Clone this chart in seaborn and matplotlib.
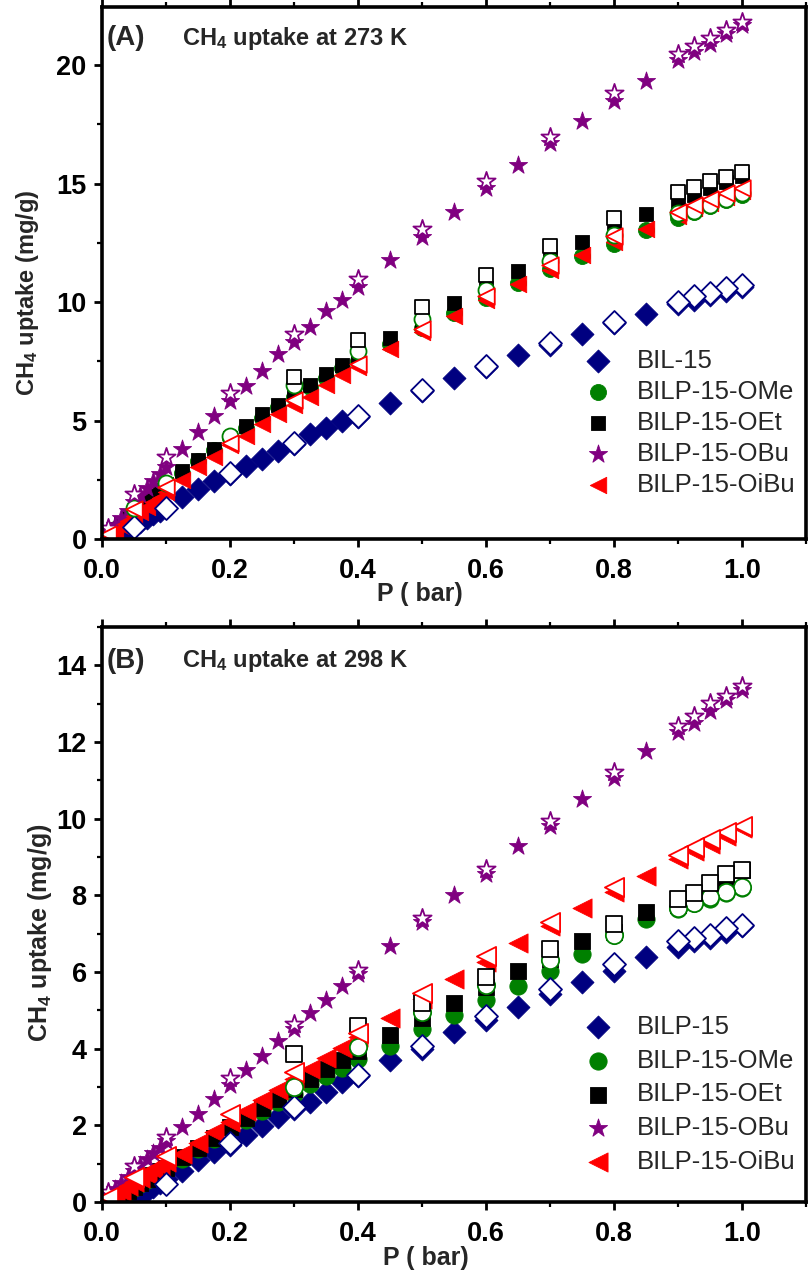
import numpy as np
import matplotlib
matplotlib.use("Agg")
import matplotlib.pyplot as plt
from matplotlib.ticker import MultipleLocator, FormatStrFormatter
import seaborn as sns

sns.set_theme(style="ticks")
plt.rcParams["font.family"] = ["Liberation Sans", "DejaVu Sans"]
plt.rcParams["mathtext.default"] = "regular"

nan = np.nan

# pressure points (bar): adsorption branch going up, desorption branch coming down
P_ADS = [0.01, 0.02, 0.03, 0.04, 0.05, 0.06, 0.07, 0.08, 0.09, 0.10,
         0.125, 0.15, 0.175, 0.20, 0.225, 0.25, 0.275, 0.30, 0.325, 0.35, 0.375, 0.40,
         0.45, 0.50, 0.55, 0.60, 0.65, 0.70, 0.75, 0.80, 0.85,
         0.90, 0.925, 0.95, 0.975, 1.00]
P_DES = [1.00, 0.975, 0.95, 0.925, 0.90, 0.80, 0.70, 0.60, 0.50, 0.40, 0.30, 0.20, 0.10, 0.05, 0.01]

# (A) 273 K, uptake in mg/g
A_BIL15_ADS = [nan, 0.05, 0.15, 0.35, 0.55, 0.72, 0.88, 1.04, 1.18, 1.32,
               1.76, 2.10, 2.45, 2.76, 3.08, 3.37, 3.72, 4.00, 4.42, 4.70, 4.96, 5.15,
               5.76, 6.25, 6.80, 7.25, 7.75, 8.20, 8.65, 9.10, 9.50,
               9.90, 10.10, 10.30, 10.45, 10.65]
A_BIL15_DES = [10.72, 10.58, 10.40, 10.25, 10.02, 9.15, 8.25, 7.30, 6.30, 5.20, 4.04, 2.77, 1.32, 0.52, nan]

A_OME_ADS = [0.20, 0.42, 0.65, 0.88, 1.10, 1.32, 1.55, 1.78, 2.00, 2.30,
             2.80, 3.30, 3.75, 4.25, 4.70, 5.10, 5.55, 6.00, 6.40, 6.80, 7.20, 7.50,
             8.22, 8.90, 9.53, 10.15, 10.80, 11.40, 11.96, 12.45, 13.03,
             13.55, 13.80, 14.05, 14.30, 14.50]
A_OME_DES = [14.60, 14.35, 14.10, 13.85, 13.75, 12.82, 11.75, 10.52, 9.28, 7.95, 6.49, 4.35, 2.35, 1.30, nan]

A_OET_ADS = [0.20, 0.43, 0.67, 0.90, 1.12, 1.35, 1.58, 1.80, 2.05, 2.30,
             2.88, 3.32, 3.78, 4.27, 4.77, 5.26, 5.67, 6.16, 6.49, 6.95, 7.36, 7.77,
             8.50, 9.25, 9.94, 10.60, 11.29, 11.90, 12.54, 13.15, 13.72,
             14.25, 14.50, 14.80, 15.05, 15.30]
A_OET_DES = [15.48, 15.28, 15.10, 14.86, 14.64, 13.56, 12.37, 11.14, 9.78, 8.38, 6.82, nan, nan, nan, nan]

A_OBU_ADS = [0.30, 0.60, 0.90, 1.20, 1.55, 1.85, 2.15, 2.45, 2.75, 3.04,
             3.78, 4.52, 5.18, 5.83, 6.46, 7.07, 7.80, 8.30, 8.96, 9.61, 10.10, 10.65,
             11.78, 12.75, 13.80, 14.80, 15.78, 16.70, 17.63, 18.50, 19.34,
             20.20, 20.55, 20.90, 21.30, 21.70]
A_OBU_DES = [21.82, 21.50, 21.15, 20.80, 20.46, 18.80, 16.97, 15.12, 13.10, 10.96, 8.66, 6.16, 3.45, 1.92, 0.45]

A_OIBU_ADS = [0.18, 0.35, 0.55, 0.75, 0.95, 1.15, 1.35, 1.55, 1.75, 1.97,
              2.47, 3.04, 3.45, 3.95, 4.36, 4.85, 5.26, 5.67, 6.00, 6.50, 6.90, 7.25,
              8.00, 8.75, 9.42, 10.10, 10.76, 11.35, 12.00, 12.55, 13.10,
              13.65, 13.95, 14.20, 14.45, 14.70]
A_OIBU_DES = [14.80, 14.60, 14.35, 14.08, 13.80, 12.77, 11.55, 10.24, 8.87, 7.40, 5.85, 4.05, 2.20, 1.25, 0.20]

# (B) 298 K, uptake in mg/g
B_BIL15_ADS = [nan, nan, 0.00, 0.05, 0.12, 0.22, 0.30, 0.40, 0.50, 0.60,
               0.82, 1.09, 1.31, 1.50, 1.74, 1.99, 2.23, 2.42, 2.61, 2.86, 3.13, 3.30,
               3.70, 3.98, 4.43, 4.75, 5.09, 5.42, 5.74, 6.02, 6.39,
               6.65, 6.80, 6.90, 7.05, 7.20]
B_BIL15_DES = [7.22, 7.15, 6.97, 6.90, 6.81, 6.21, 5.56, 4.85, 4.08, 3.32, 2.47, 1.53, 0.47, nan, nan]

B_OME_ADS = [nan, 0.07, 0.17, 0.27, 0.37, 0.47, 0.57, 0.67, 0.77, 0.87,
             1.13, 1.39, 1.64, 1.90, 2.15, 2.38, 2.60, 2.83, 3.08, 3.30, 3.50, 3.72,
             4.08, 4.52, 4.87, 5.28, 5.63, 6.02, 6.48, 7.00, 7.37,
             7.65, 7.80, 7.90, 8.05, 8.20]
B_OME_DES = [8.22, 8.10, 7.95, 7.80, 7.68, 6.97, 6.32, 5.66, 4.95, 4.05, 3.00, nan, nan, nan, nan]

B_OET_ADS = [nan, 0.10, 0.20, 0.30, 0.40, 0.50, 0.60, 0.70, 0.80, 0.90,
             1.17, 1.42, 1.68, 1.95, 2.20, 2.45, 2.70, 2.95, 3.21, 3.48, 3.70, 3.95,
             4.36, 4.80, 5.20, 5.60, 6.02, 6.35, 6.81, 7.05, 7.57,
             7.75, 8.00, 8.20, 8.40, 8.65]
B_OET_DES = [8.66, 8.55, 8.33, 8.06, 7.90, 7.24, 6.59, 5.88, 5.20, 4.58, 3.87, nan, nan, nan, nan]

B_OBU_ADS = [0.18, 0.34, 0.50, 0.65, 0.82, 0.97, 1.12, 1.27, 1.42, 1.60,
             1.96, 2.29, 2.69, 3.05, 3.45, 3.81, 4.19, 4.52, 4.93, 5.28, 5.64, 5.95,
             6.67, 7.30, 8.00, 8.55, 9.28, 9.80, 10.51, 11.05, 11.76,
             12.25, 12.50, 12.80, 13.10, 13.35]
B_OBU_DES = [13.45, 13.20, 13.02, 12.67, 12.42, 11.22, 9.95, 8.68, 7.41, 6.05, 4.65, 3.24, 1.69, 0.93, 0.25]

B_OIBU_ADS = [nan, 0.19, 0.30, 0.41, 0.52, 0.63, 0.74, 0.85, 0.95, 1.05,
              1.25, 1.55, 1.82, 2.10, 2.38, 2.65, 2.93, 3.20, 3.48, 3.75, 4.03, 4.30,
              4.79, 5.30, 5.81, 6.25, 6.75, 7.20, 7.68, 8.10, 8.50,
              8.95, 9.15, 9.35, 9.55, 9.75]
B_OIBU_DES = [9.80, 9.64, 9.48, 9.26, 9.04, 8.22, 7.30, 6.43, 5.45, 4.41, 3.38, 2.29, 1.20, 0.65, 0.12]

NOMES_A = ["BIL-15", "BILP-15-OMe", "BILP-15-OEt", "BILP-15-OBu", "BILP-15-OiBu"]
NOMES_B = ["BILP-15", "BILP-15-OMe", "BILP-15-OEt", "BILP-15-OBu", "BILP-15-OiBu"]

CORES = ["#000080", "#008000", "#000000", "#800080", "#ff0000"]
MARCADORES = ["D", "o", "s", "*", "<"]


def painel(ax, ads, des, nomes, tamanhos, ylim, ymaior, letra, titulo, ylab_fs, leg_y, leg_sp):
    # adsorption = filled markers
    for serie, nome, cor, m, s in zip(ads, nomes, CORES, MARCADORES, tamanhos):
        sns.scatterplot(x=P_ADS, y=serie, marker=m, s=s, color=cor, edgecolor=cor,
                        linewidth=0.6, label=nome, legend=False, ax=ax)
    # desorption = open markers
    for serie, cor, m, s in zip(des, CORES, MARCADORES, tamanhos):
        sns.scatterplot(x=P_DES, y=serie, marker=m, s=s, color="white", edgecolor=cor,
                        linewidth=1.3, legend=False, ax=ax)

    ax.set_xlim(0, 1.1)
    ax.set_ylim(*ylim)
    ax.xaxis.set_major_locator(MultipleLocator(0.2))
    ax.xaxis.set_minor_locator(MultipleLocator(0.1))
    ax.yaxis.set_major_locator(MultipleLocator(ymaior))
    ax.yaxis.set_minor_locator(MultipleLocator(ymaior / 2))
    ax.xaxis.set_major_formatter(FormatStrFormatter("%.1f"))

    for sp in ax.spines.values():
        sp.set_linewidth(2.6)
        sp.set_color("black")
    ax.tick_params(which="major", direction="out", length=6, width=2, labelsize=19.5,
                   colors="black", top=True)
    ax.tick_params(which="minor", direction="out", length=3.5, width=1.6, top=True,
                   colors="black")
    ax.tick_params(axis="x", which="major", pad=8)
    ax.tick_params(axis="y", which="major", pad=5)
    for lb in ax.get_xticklabels() + ax.get_yticklabels():
        lb.set_fontweight("bold")

    ax.set_xlabel("P ( bar)", fontsize=18, fontweight="bold")
    ax.set_ylabel("CH$_4$ uptake (mg/g)", fontsize=ylab_fs, fontweight="bold")

    ax.text(0.006, 0.941, letra, transform=ax.transAxes, fontsize=20,
            fontweight="bold", va="center", ha="left")
    ax.text(0.113, 0.941, titulo, transform=ax.transAxes, fontsize=17,
            fontweight="bold", va="center", ha="left")

    ax.legend(loc="center left", bbox_to_anchor=(0.687, leg_y), frameon=False,
              fontsize=18.5, handlelength=1.0, handletextpad=0.98,
              labelspacing=leg_sp, borderpad=0, borderaxespad=0, scatterpoints=1)


fig = plt.figure(figsize=(8.1, 12.72), dpi=100)
ax1 = fig.add_axes([102 / 810, 1 - 539 / 1272, 704 / 810, 532 / 1272])
ax2 = fig.add_axes([102 / 810, 1 - 1202 / 1272, 704 / 810, 575 / 1272])

painel(ax1,
       [A_BIL15_ADS, A_OME_ADS, A_OET_ADS, A_OBU_ADS, A_OIBU_ADS],
       [A_BIL15_DES, A_OME_DES, A_OET_DES, A_OBU_DES, A_OIBU_DES],
       NOMES_A, [137, 133, 102, 190, 140], (0, 22.45), 5,
       "(A)", "CH$_4$ uptake at 273 K", 17, 0.218, 0.27)
painel(ax2,
       [B_BIL15_ADS, B_OME_ADS, B_OET_ADS, B_OBU_ADS, B_OIBU_ADS],
       [B_BIL15_DES, B_OME_DES, B_OET_DES, B_OBU_DES, B_OIBU_DES],
       NOMES_B, [137, 155, 117, 190, 190], (0, 15), 2,
       "(B)", "CH$_4$ uptake at 298 K", 18, 0.187, 0.38)

ax1.yaxis.set_label_coords(-0.086, 0.463)
ax2.yaxis.set_label_coords(-0.068, 0.468)
ax1.xaxis.set_label_coords(0.452, -0.081)
ax2.xaxis.set_label_coords(0.46, -0.077)

fig.savefig("out.png", dpi=100)
